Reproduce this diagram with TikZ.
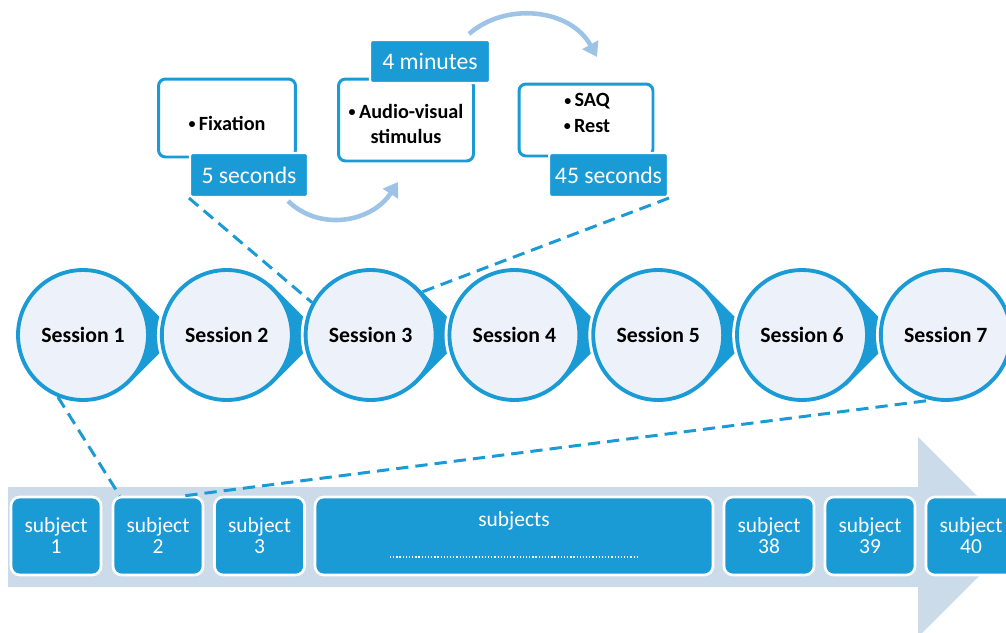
\documentclass[tikz,border=0pt]{standalone}
\usepackage{fontspec}
\setmainfont{Carlito}
\usetikzlibrary{arrows.meta, positioning}

\definecolor{sessblue}{HTML}{1B9BD6}
\definecolor{sessfill}{HTML}{EDF2FA}
\definecolor{bandgray}{HTML}{CCDBEA}
\definecolor{flowblue}{HTML}{9DC3E6}

\newcommand{\stepdot}{{\fontsize{8}{8}\selectfont\raisebox{0.25ex}{\textbullet}}\,}

\begin{document}
\begin{tikzpicture}[
    x=0.02cm, y=-0.02cm,
    session/.style={circle, minimum size=2.6cm, inner sep=0pt, fill=sessfill, draw=sessblue, line width=2.2pt, font=\bfseries\fontsize{12.4}{14}\selectfont},
    tipshape/.style={fill=sessblue, draw=sessblue, line width=2.2pt},
    ring/.style={draw=white, line width=5.5pt},
    stepbox/.style={draw=sessblue, fill=white, line width=1.7pt, rounded corners=4pt},
    steptext/.style={align=center, inner sep=0pt, font=\bfseries\fontsize{11.5}{14.5}\selectfont},
    timebox/.style={fill=sessblue, draw=white, line width=1.2pt, rounded corners=1.5pt, text=white, font=\fontsize{13.5}{16}\selectfont},
    subj/.style={fill=sessblue, draw=white, line width=1.5pt, rounded corners=5pt, minimum width=1.8cm, minimum height=1.56cm, text=white, align=center, font=\fontsize{12.2}{12}\selectfont},
    link/.style={draw=sessblue, line width=1.7pt, dash pattern=on 7pt off 4pt},
    flow/.style={draw=flowblue, line width=2.6pt, -{Triangle[length=8pt,width=10pt]}}
]

\useasboundingbox (0,0) rectangle (1006,632);

%-------------------------------------------------
% Subject band
%-------------------------------------------------
\fill[bandgray] (8,487) -- (918,487) -- (918,437) -- (1018,537) -- (918,637) -- (918,587) -- (8,587) -- cycle;

\foreach \n/\x/\lab in {sub1/56/1, sub2/158/2, sub3/259.5/3, sub38/769/38, sub39/870/39, sub40/971/40}
    \node[subj] (\n) at (\x,536) {subject\\\lab};

\node[subj, minimum width=7.96cm] (subjs) at (514,536) {};
\node[text=white, font=\fontsize{12.2}{12}\selectfont] (subjslabel) at (514,521) {subjects};
\draw[white, line width=0.8pt, dash pattern=on 0.7pt off 1.1pt] (390,557) -- (637,557);

%-------------------------------------------------
% Sessions
%-------------------------------------------------
\foreach \i in {1,...,7}{
    \pgfmathsetmacro{\cx}{83+143.8*(\i-1)}
    \draw[ring] (\cx,335) circle[radius=1.3cm];
    \ifnum\i<7
        \filldraw[tipshape] (\cx+92,335) -- (\cx+46,289) -- (\cx+46,381) -- cycle;
    \fi
    \node[session] (s\i) at (\cx,335) {Session \i};
}

%-------------------------------------------------
% Steps of one session
%-------------------------------------------------
\node[stepbox, minimum width=2.74cm, minimum height=1.56cm] (fix) at (227,118) {};
\node[steptext] (fixtext) at (227,123) {\stepdot Fixation};

\node[stepbox, minimum width=2.7cm, minimum height=1.64cm] (stim) at (406,120) {};
\node[steptext] (stimtext) at (406,124) {\stepdot Audio-visual\\stimulus};

\node[stepbox, minimum width=2.68cm, minimum height=1.44cm] (rest) at (586,120) {};
\node[steptext] (resttext) at (587,113) {\stepdot SAQ\\\stepdot Rest};

\node[timebox, minimum width=2.36cm, minimum height=0.88cm] (t5s)  at (249,175)  {5 seconds};
\node[timebox, minimum width=2.4cm,  minimum height=0.86cm] (t4m)  at (430,61.5) {4 minutes};
\node[timebox, minimum width=2.34cm, minimum height=0.88cm] (t45s) at (608.5,175) {45 seconds};

% order of the steps
\coordinate (f1b) at (398,182);
\coordinate (f2b) at (597,57);
\draw[flow] ([xshift=-0.42cm,yshift=-0.06cm]t5s.south east) .. controls (320,232) and (372,222) .. (f1b);
\draw[flow] ([xshift=-0.44cm,yshift=0.1cm]t4m.north east) .. controls (505,2) and (570,8) .. (f2b);

%-------------------------------------------------
% Zoom lines
%-------------------------------------------------
\draw[link] (t5s.south west) -- (s3.151);
\draw[link] (t45s.south east) -- (s3.40);
\draw[link] (s1.248) -- ([xshift=0.16cm]sub2.north west);
\draw[link] ([xshift=-0.38cm]sub2.north east) -- (s7.257);

\end{tikzpicture}
\end{document}
